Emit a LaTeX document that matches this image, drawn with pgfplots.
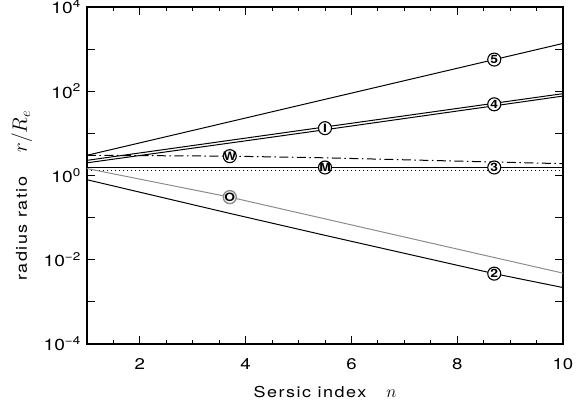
\documentclass[border=0pt]{standalone}
\usepackage{fontspec}
\setmainfont{TeX Gyre Heros}[FakeStretch=1.2]
\newfontfamily\labfont{TeX Gyre Heros}[FakeStretch=1.2, LetterSpace=10]
\usepackage{pgfplots}
\pgfplotsset{compat=1.18}
\definecolor{midgray}{RGB}{140,140,140}

% radius ratios r/R_e against Sersic index n
\pgfplotstableread{
n     r
1     3.02
3.7   18.9
5.5   64.3
8.7   565
10    1365
}\lineFive
\pgfplotstableread{
n     r
1     2.29
3.7   6.84
5.5   14.2
8.7   51.9
10    87.7
}\lineFourA
\pgfplotstableread{
n     r
1     2.00
3.7   5.90
5.5   12.2
8.7   45.1
10    76.9
}\lineFourB
\pgfplotstableread{
n     r
1     3.02
3.7   2.88
5.5   2.63
8.7   2.09
10    1.91
}\lineW
\pgfplotstableread{
n     r
1     1.55
10    1.55
}\lineM
\pgfplotstableread{
n     r
1     1.32
10    1.32
}\lineDot
\pgfplotstableread{
n     r
1     1.46
3.7   0.307
5.5   0.0935
8.7   0.0113
10    0.00481
}\lineO
\pgfplotstableread{
n     r
1     0.794
3.7   0.126
5.5   0.038
8.7   0.00468
10    0.00219
}\lineTwo
\pgfplotstableread{
n     r      lab
8.7   565    5
8.7   49     4
5.5   13.3   I
3.7   2.88   W
5.5   1.55   M
8.7   1.55   3
8.7   0.00468 2
}\markers
\pgfplotstableread{
n     r      lab
3.7   0.307  O
}\markerO

\begin{document}
\fontsize{15}{18}\selectfont
\begin{tikzpicture}
\begin{semilogyaxis}[
  scale only axis, width=476pt, height=337pt,
  xmin=1, xmax=10, ymin=1e-4, ymax=1e4,
  axis line style={line width=1.1pt},
  xtick={2,4,6,8,10},
  minor xtick={1.5,2.5,3,3.5,4.5,5,5.5,6.5,7,7.5,8.5,9,9.5},
  ytick={1e-4,1e-2,1,1e2,1e4},
  yticklabels={10\textsuperscript{−4},10\textsuperscript{−2},10\textsuperscript{0},10\textsuperscript{2},10\textsuperscript{4}},
  extra y ticks={1e-3,1e-1,10,1e3},
  extra y tick labels={},
  minor y tick style={draw=none},
  xtick pos=both, ytick pos=both,
  xticklabel pos=lower, yticklabel pos=left,
  tick align=inside,
  major tick length=8pt, minor tick length=4pt,
  every tick/.style={line width=0.9pt, black},
  /pgf/number format/assume math mode=true,
  xticklabel style={font=\fontsize{15.5}{18}\selectfont, yshift=-9pt},
  yticklabel style={font=\fontsize{16}{18}\selectfont, xshift=-1pt},
  xlabel={\labfont Sersic index\hspace{20pt}{\fontsize{16}{18}\selectfont$n$}},
  ylabel={\labfont radius ratio\hspace{24pt}{\fontsize{20}{22}\selectfont$r/R_e$}},
  xlabel style={at={(axis description cs:0.5,-0.142)}, anchor=center},
  ylabel style={at={(axis description cs:-0.137,0.44)}, anchor=center},
  clip=true,
]
\addplot[black, line width=1pt] table {\lineFive};
\addplot[black, line width=1pt] table {\lineFourA};
\addplot[black, line width=1pt] table {\lineFourB};
\addplot[black, line width=1pt, dash pattern=on 9pt off 3.5pt on 1.5pt off 3.5pt] table {\lineW};
\addplot[black, line width=1pt] table {\lineM};
\addplot[black, line width=1pt, dash pattern=on 1.2pt off 2.8pt] table {\lineDot};
\addplot[midgray, line width=1pt] table {\lineO};
\addplot[black, line width=1pt] table {\lineTwo};
\addplot[only marks, mark=*, mark size=6.5pt,
  mark options={fill=white, draw=black, line width=1.1pt},
  nodes near coords, point meta=explicit symbolic,
  every node near coord/.append style={anchor=center, inner sep=0pt,
    font=\fontsize{11.5}{12}\selectfont\bfseries}]
  table[x=n, y=r, meta=lab] {\markers};
\addplot[only marks, mark=*, mark size=6.5pt,
  mark options={fill=white, draw=midgray, line width=1.4pt},
  nodes near coords, point meta=explicit symbolic,
  every node near coord/.append style={anchor=center, inner sep=0pt,
    font=\fontsize{11.5}{12}\selectfont\bfseries}]
  table[x=n, y=r, meta=lab] {\markerO};
\end{semilogyaxis}
\pgfresetboundingbox
\path[use as bounding box] (-87pt,-61pt) rectangle (489pt,344pt);
\end{tikzpicture}
\end{document}
